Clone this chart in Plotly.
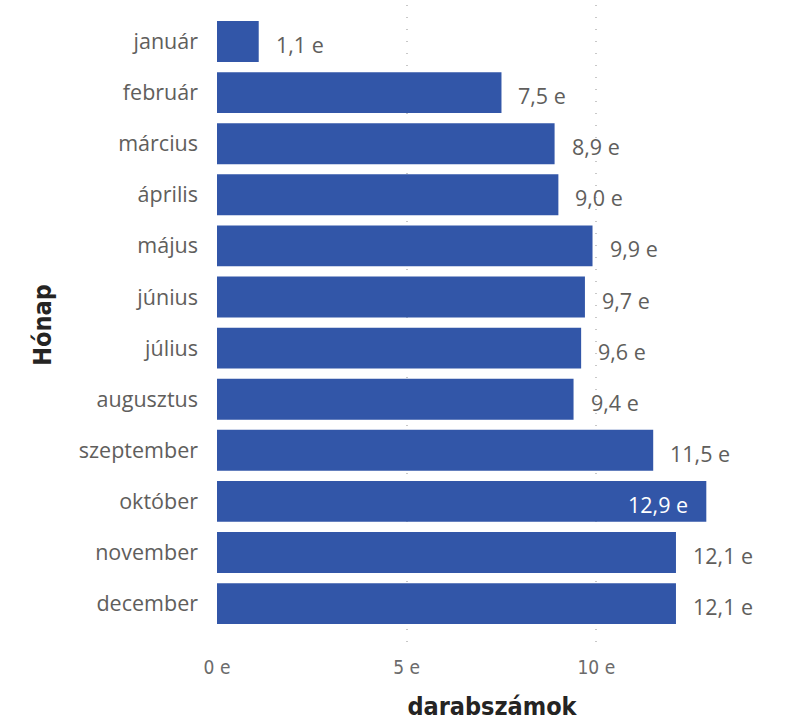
import plotly.graph_objects as go

months = ["január", "február", "március", "április", "május", "június",
          "július", "augusztus", "szeptember", "október", "november", "december"]
values = [1.1, 7.5, 8.9, 9.0, 9.9, 9.7, 9.6, 9.4, 11.5, 12.9, 12.1, 12.1]
x_ticks = [0, 5, 10]
x_tick_labels = ["0 e", "5 e", "10 e"]

BAR = "#3256a8"
TXT = "#605e5c"
XMAX = 14.5

def fmt(v):
    return f"{v:.1f}".replace(".", ",") + " e"

fig = go.Figure(go.Bar(
    x=values, y=months, orientation="h",
    marker=dict(color=BAR, line=dict(width=0)),
    hoverinfo="skip",
))

for m, v in zip(months, values):
    inside = v > 12.5
    fig.add_annotation(
        x=v, y=m, text=fmt(v), showarrow=False,
        xanchor="right" if inside else "left",
        xshift=-16 if inside else 15, yshift=-3,
        font=dict(family="Open Sans", size=21.5, color="white" if inside else TXT),
    )

fig.update_layout(
    width=790, height=721,
    margin=dict(l=217, r=23, t=5, b=76),
    paper_bgcolor="white", plot_bgcolor="white",
    bargap=0.2, showlegend=False,
    xaxis=dict(
        range=[0, XMAX], tickvals=x_ticks, ticktext=x_tick_labels,
        automargin=False,
        showgrid=True, gridcolor="#c8c8c8", griddash="1px,11px", gridwidth=1.5,
        zeroline=False, showline=False, ticks="",
        tickfont=dict(family="DejaVu Sans Condensed", size=19, color="#6b6b6b"),
        ticklabelstandoff=9,
        title=dict(text="darabszámok", standoff=20,
                   font=dict(family="DejaVu Sans Condensed", size=25, color="#252423", weight="bold")),
    ),
    yaxis=dict(
        type="category", categoryorder="array", categoryarray=months,
        range=[11.81, -0.714],
        automargin=False,
        showgrid=False, zeroline=False, showline=False, ticks="",
        ticklabelstandoff=18,
        tickfont=dict(family="Open Sans", size=21.5, color=TXT),
        title=dict(text="Hónap", standoff=20,
                   font=dict(family="DejaVu Sans Condensed", size=25, color="#252423", weight="bold")),
    ),
)

fig.write_html("out.html", config={"displayModeBar": False},
               post_script="document.body.style.margin='0';document.body.style.overflow='hidden';")
